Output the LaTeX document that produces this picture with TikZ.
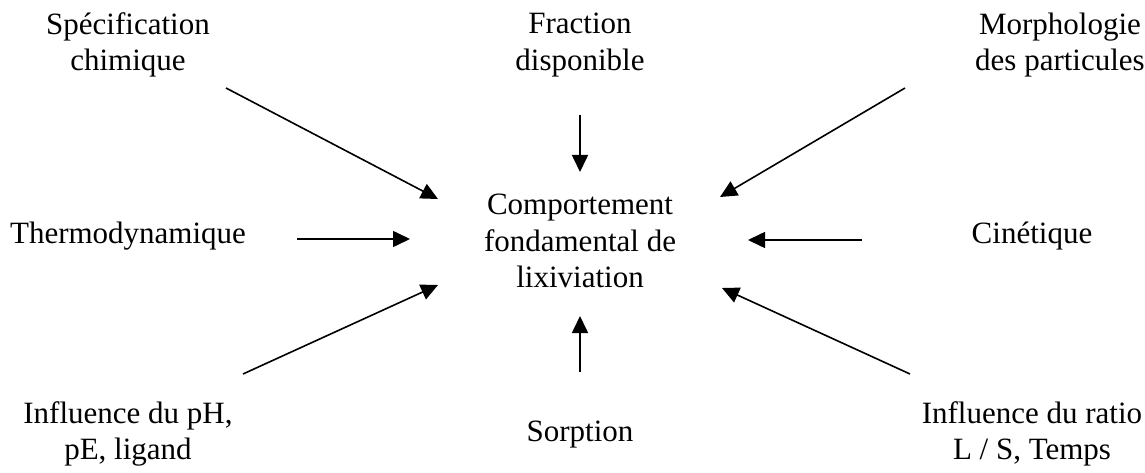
\documentclass[tikz,border=0pt]{standalone}
\usepackage{fontspec}
\setmainfont{Liberation Serif}
\usetikzlibrary{arrows.meta}
\begin{document}
\begin{tikzpicture}[x=1pt,y=-1pt,
  label text/.style={align=center,inner sep=0pt,font=\fontsize{31}{36.5}\selectfont},
  feed/.style={line width=1.6pt,-{Triangle[length=17pt,width=16pt]}}]
\useasboundingbox (0,0) rectangle (1145,473);
% surrounding factors and the central behaviour
\node[label text] (spec)   at (128,45)  {Spécification\\chimique};
\node[label text] (frac)   at (580,45)  {Fraction\\disponible};
\node[label text] (morph)  at (1060,45) {Morphologie\\des particules};
\node[label text] (thermo) at (128,236) {Thermodynamique};
\node[label text] (comp)   at (580,241) {Comportement\\fondamental de\\lixiviation};
\node[label text] (cin)    at (1032,236) {Cinétique};
\node[label text] (ph)     at (128,434) {Influence du pH,\\pE, ligand};
\node[label text] (sorp)   at (580,435) {Sorption};
\node[label text] (ratio)  at (1032,434) {Influence du ratio\\L / S, Temps};
% arrow ends
\coordinate (s1) at (226,88);  \coordinate (t1) at (438,199);
\coordinate (s2) at (580,115); \coordinate (t2) at (580,172);
\coordinate (s3) at (905,88);  \coordinate (t3) at (720,197);
\coordinate (s4) at (297,239); \coordinate (t4) at (410,239);
\coordinate (s5) at (862,240); \coordinate (t5) at (748,240);
\coordinate (s6) at (243,374); \coordinate (t6) at (438,285);
\coordinate (s7) at (580,372); \coordinate (t7) at (580,316);
\coordinate (s8) at (910,374); \coordinate (t8) at (722,288);
\foreach \i in {1,...,8} \draw[feed] (s\i) -- (t\i);
\end{tikzpicture}
\end{document}
